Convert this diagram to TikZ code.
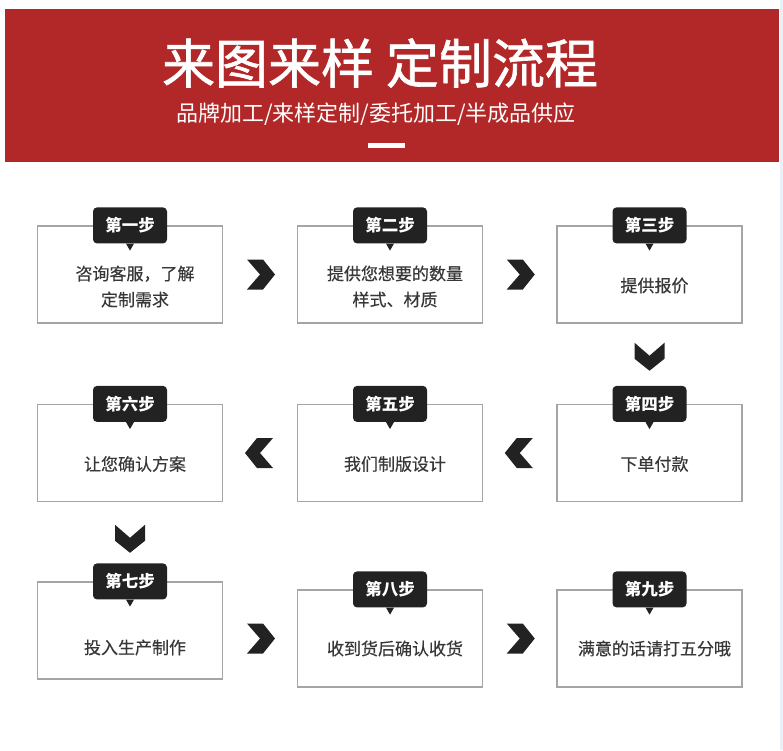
\documentclass[tikz,border=0pt]{standalone}
\usepackage{fontspec}
\setmainfont{Noto Sans CJK SC}
\newfontfamily\titlefont[FakeBold=1.2]{Noto Sans CJK SC}
\newfontfamily\bodyfont[FakeBold=0.4]{Noto Sans CJK SC}
\usetikzlibrary{positioning,calc}
\definecolor{bannerred}{RGB}{178,40,40}
\definecolor{tagdark}{RGB}{34,34,34}
\definecolor{boxgray}{RGB}{165,165,165}
\definecolor{textgray}{RGB}{55,55,55}
\definecolor{edgeblue}{RGB}{232,240,248}

\begin{document}
\begin{tikzpicture}[x=1pt,y=-1pt,
  stepbox/.style={draw=boxgray,line width=1.2pt,minimum width=185pt,
    minimum height=97pt,inner sep=0pt},
  steptext/.style={font=\bodyfont\fontsize{17}{26}\selectfont,text=textgray,
    align=center,xshift=5pt},
  steptag/.style={fill=tagdark,rounded corners=4pt,minimum width=74pt,
    minimum height=36pt,inner sep=0pt,text=white,
    font=\fontsize{16.5}{20}\selectfont\bfseries},
  chevron/.pic={\fill[tagdark] (15,0) -- (3,-15) -- (-13,-15) -- (0,0)
    -- (-13,15) -- (3,15) -- cycle;}
]
  \useasboundingbox (0,0) rectangle (783,750);
  \fill[white] (0,0) rectangle (783,750);
  \fill[edgeblue] (780,0) rectangle (783,750);

  % Banner
  \fill[bannerred] (5,9) rectangle (779,162);
  \node[font=\titlefont\fontsize{53}{60}\selectfont,text=white] (title) at (380,63)
    {来图来样 定制流程};
  \node[font=\fontsize{22}{28}\selectfont,text=white] (sub) at (376,114)
    {品牌加工/来样定制/委托加工/半成品供应};
  \node[fill=white,minimum width=37pt,minimum height=5pt,inner sep=0pt]
    (bar) at (386,145.5) {};

  % Boxes
  \node[stepbox] (s1) at (130,274.5) {};
  \node[stepbox] (s2) at (390,274.5) {};
  \node[stepbox] (s3) at (649.5,274.5) {};
  \node[stepbox] (s4) at (649.5,453) {};
  \node[stepbox] (s5) at (390,453) {};
  \node[stepbox] (s6) at (130,453) {};
  \node[stepbox] (s7) at (130,630.5) {};
  \node[stepbox] (s8) at (390,638.5) {};
  \node[stepbox] (s9) at (649.5,638.5) {};

  % Texts
  \node[steptext] (x1) at ([yshift=-12pt]s1.center) {咨询客服，了解\\定制需求};
  \node[steptext] (x2) at ([yshift=-12pt]s2.center) {提供您想要的数量\\样式、材质};
  \node[steptext] (x3) at ([yshift=-11pt]s3.center) {提供报价};
  \node[steptext] (x4) at ([yshift=-11pt]s4.center) {下单付款};
  \node[steptext] (x5) at ([yshift=-11pt]s5.center) {我们制版设计};
  \node[steptext] (x6) at ([yshift=-11pt]s6.center) {让您确认方案};
  \node[steptext] (x7) at ([yshift=-17pt]s7.center) {投入生产制作};
  \node[steptext] (x8) at ([yshift=-10pt]s8.center) {收到货后确认收货};
  \node[steptext] (x9) at ([yshift=-10pt]s9.center) {满意的话请打五分哦};

  % Tags
  \foreach \i/\lbl in {1/第一步,2/第二步,3/第三步,4/第四步,5/第五步,
      6/第六步,7/第七步,8/第八步,9/第九步} {
    \node[steptag] (t\i) at (s\i.north) {\lbl};
    \fill[tagdark] ([xshift=-4pt]t\i.south) -- ([xshift=4pt]t\i.south)
      -- ([yshift=-7pt]t\i.south) -- cycle;
  }

  % Chevrons
  \pic at ($(s1.east)!0.5!(s2.west)$) {chevron};
  \pic at ($(s2.east)!0.5!(s3.west)$) {chevron};
  \pic[rotate=-90] at ($(s3.south)!0.4!(s4.north)$) {chevron};
  \pic[rotate=180] at ($(s4.west)!0.5!(s5.east)$) {chevron};
  \pic[rotate=180] at ($(s5.west)!0.5!(s6.east)$) {chevron};
  \pic[rotate=-90] at ($(s6.south)!0.45!(s7.north)$) {chevron};
  \pic at ($(s7.east |- s8.west)!0.5!(s8.west)$) {chevron};
  \pic at ($(s8.east)!0.5!(s9.west)$) {chevron};
\end{tikzpicture}
\end{document}
